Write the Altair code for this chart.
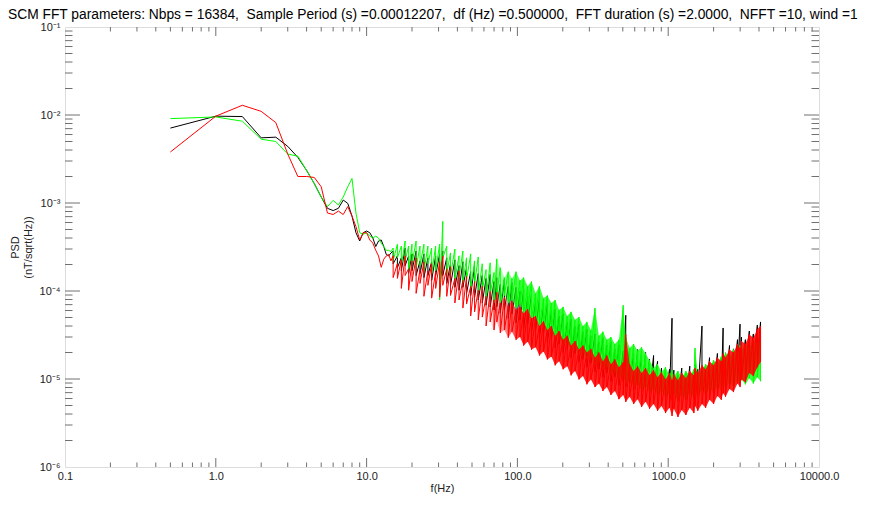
import altair as alt
import pandas as pd

NB = "\u00a0 "  # keeps the double spaces of the original title
TITLE = ("SCM FFT parameters: Nbps = 16384," + NB + "Sample Period (s) =0.00012207," + NB +
         "df (Hz) =0.500000," + NB + "FFT duration (s) =2.0000," + NB + "NFFT =10, wind =1")

# ---- low-frequency part (0.5 Hz bins) ----
F_LOW = [0.5, 1.0, 1.5, 2.0, 2.5, 3.0, 3.5, 4.0, 4.5, 5.0, 5.5, 6.0, 6.5, 7.0, 7.5,
         8.0, 8.5, 9.0, 9.5, 10.0, 10.5, 11.0, 11.5, 12.0, 12.5, 13.0, 13.5, 14.0, 14.5]
BLACK_LOW = [7.1e-3, 9.7e-3, 9.6e-3, 5.5e-3, 5.6e-3, 4.4e-3, 3.3e-3, 2.35e-3, 1.66e-3, 1.17e-3,
             8.7e-4, 8.2e-4, 8.7e-4, 1.08e-3, 9.9e-4, 7.1e-4, 4.6e-4, 3.7e-4, 4.6e-4, 4.8e-4,
             4.6e-4, 4.0e-4, 3.2e-4, 3.7e-4, 3.8e-4, 3.2e-4, 2.6e-4, 2.5e-4, 2.7e-4]
GREEN_LOW = [9.1e-3, 9.5e-3, 8.5e-3, 5.3e-3, 5.0e-3, 3.6e-3, 3.4e-3, 2.35e-3, 1.66e-3, 1.17e-3,
             9.1e-4, 1.07e-3, 9.5e-4, 1.17e-3, 1.53e-3, 1.9e-3, 7.7e-4, 4.6e-4, 4.4e-4, 4.6e-4,
             4.2e-4, 4.0e-4, 4.2e-4, 4.0e-4, 3.5e-4, 3.2e-4, 2.9e-4, 2.9e-4, 2.8e-4]
RED_LOW = [3.8e-3, 9.7e-3, 1.29e-2, 1.1e-2, 8.2e-3, 3.6e-3, 2.0e-3, 2.0e-3, 1.95e-3, 1.53e-3,
           7.7e-4, 7.4e-4, 8.1e-4, 7.4e-4, 9.1e-4, 7.1e-4, 5.4e-4, 3.8e-4, 4.6e-4, 4.6e-4,
           3.8e-4, 3.5e-4, 2.9e-4, 2.5e-4, 1.86e-4, 2.3e-4, 2.5e-4, 2.6e-4, 2.2e-4]

# ---- higher frequencies: upper / lower excursion of the noisy trace ----
F_HIGH = [15, 16, 17, 18, 19, 20, 21.3, 22.6, 24, 25.5,
          27, 28.7, 30.5, 32, 34, 36, 38.5, 41, 43.5, 46,
          49, 52, 55, 58.5, 62, 66, 70, 73, 77, 82,
          87, 92, 98, 104, 110, 117, 124, 132, 140, 149,
          158, 168, 178, 189, 201, 214, 227, 241, 256, 272,
          289, 307, 327, 347, 369, 392, 417, 443, 471, 503,
          523, 555, 590, 627, 666, 708, 752, 800, 850, 903,
          960, 1020, 1060, 1090, 1160, 1230, 1310, 1390, 1480, 1506,
          1570, 1675, 1770, 1880, 2000, 2120, 2250, 2313, 2400, 2550,
          2710, 2880, 2995, 3060, 3250, 3450, 3670, 3900, 4096]

BLACK_TOP = [2.85e-4, 2.5e-4, 2.38e-4, 3.08e-4, 2.5e-4, 2.64e-4, 2.85e-4, 2.2e-4, 2.64e-4, 2.38e-4,
             2.15e-4, 2.5e-4, 2.64e-4, 2.85e-4, 2.38e-4, 2.04e-4, 2.26e-4, 1.94e-4, 2.15e-4, 1.84e-4,
             1.66e-4, 1.94e-4, 1.58e-4, 1.5e-4, 1.39e-4, 1.54e-4, 1.28e-4, 1.42e-4, 1.19e-4, 1.35e-4,
             1.13e-4, 1.25e-4, 1.1e-4, 9.9e-5, 1.04e-4, 8.7e-5, 9.4e-5, 7.7e-5, 8.1e-5, 6.75e-5,
             7.1e-5, 5.9e-5, 6.25e-5, 5.2e-5, 5.5e-5, 4.45e-5, 4.8e-5, 4.0e-5, 4.2e-5, 3.45e-5,
             3.7e-5, 3.1e-5, 3.25e-5, 2.65e-5, 2.95e-5, 2.45e-5, 2.65e-5, 2.2e-5, 2.45e-5, 2.1e-5,
             5.3e-5, 2.25e-5, 1.95e-5, 2.16e-5, 1.8e-5, 2.0e-5, 1.67e-5, 1.85e-5, 1.59e-5, 1.33e-5,
             1.13e-5, 1.29e-5, 4.9e-5, 1.26e-5, 1.1e-5, 1.33e-5, 1.17e-5, 1.4e-5, 1.23e-5, 1.47e-5,
             1.29e-5, 4.0e-5, 1.43e-5, 1.75e-5, 1.59e-5, 1.95e-5, 1.75e-5, 3.8e-5, 1.95e-5, 2.4e-5,
             2.2e-5, 2.8e-5, 4.2e-5, 3.0e-5, 2.8e-5, 3.5e-5, 3.25e-5, 4.1e-5, 4.45e-5]
BLACK_BOTTOM = [2.04e-4, 1.84e-4, 1.7e-4, 1.94e-4, 1.58e-4, 1.7e-4, 1.5e-4, 1.58e-4, 1.42e-4, 1.5e-4,
                1.32e-4, 1.5e-4, 1.32e-4, 1.5e-4, 1.22e-4, 1.16e-4, 1.1e-4, 1.02e-4, 1.1e-4, 9.4e-5,
                8.9e-5, 8.5e-5, 7.9e-5, 7.3e-5, 6.9e-5, 6.6e-5, 6.1e-5, 6.6e-5, 5.6e-5, 6.1e-5,
                4.9e-5, 5.5e-5, 4.35e-5, 4.7e-5, 3.8e-5, 4.2e-5, 3.35e-5, 3.6e-5, 2.95e-5, 3.25e-5,
                2.6e-5, 2.8e-5, 2.25e-5, 2.5e-5, 2.0e-5, 2.16e-5, 1.75e-5, 1.95e-5, 1.55e-5, 1.67e-5,
                1.36e-5, 1.51e-5, 1.2e-5, 1.29e-5, 1.05e-5, 1.17e-5, 9.4e-6, 1.05e-5, 8.5e-6, 9.4e-6,
                8.1e-6, 8.9e-6, 7.5e-6, 8.5e-6, 7.1e-6, 8.1e-6, 6.8e-6, 7.7e-6, 6.4e-6, 7.3e-6,
                6.1e-6, 6.9e-6, 5.8e-6, 6.8e-6, 5.6e-6, 6.6e-6, 5.8e-6, 6.9e-6, 6.1e-6, 7.3e-6,
                6.4e-6, 7.7e-6, 6.9e-6, 8.5e-6, 7.7e-6, 9.4e-6, 8.5e-6, 1.02e-5, 8.9e-6, 1.1e-5,
                9.9e-6, 1.23e-5, 1.1e-5, 1.33e-5, 1.23e-5, 1.55e-5, 1.43e-5, 1.8e-5, 1.67e-5]

GREEN_TOP = [3.08e-4, 3.4e-4, 3.24e-4, 3.7e-4, 3.24e-4, 3.4e-4, 3.7e-4, 3.24e-4, 3.4e-4, 3.24e-4,
             3.08e-4, 3.24e-4, 3.4e-4, 6.2e-4, 3.24e-4, 2.71e-4, 3.0e-4, 2.51e-4, 2.85e-4, 2.38e-4,
             2.64e-4, 2.2e-4, 2.44e-4, 2.04e-4, 1.75e-4, 2.09e-4, 1.62e-4, 2.32e-4, 1.84e-4, 1.42e-4,
             1.66e-4, 1.39e-4, 1.66e-4, 1.32e-4, 1.42e-4, 1.13e-4, 1.28e-4, 9.4e-5, 1.13e-4, 8.3e-5,
             8.9e-5, 7.3e-5, 7.9e-5, 6.1e-5, 6.6e-5, 5.2e-5, 5.8e-5, 4.7e-5, 5.05e-5, 4.0e-5,
             4.45e-5, 3.6e-5, 6.4e-5, 3.1e-5, 3.45e-5, 2.8e-5, 3.0e-5, 2.5e-5, 2.8e-5, 6.9e-5,
             3.0e-5, 2.25e-5, 2.5e-5, 2.1e-5, 2.3e-5, 1.95e-5, 1.63e-5, 1.33e-5, 1.47e-5, 1.2e-5,
             1.36e-5, 1.1e-5, 1.26e-5, 1.08e-5, 1.23e-5, 1.05e-5, 1.23e-5, 1.08e-5, 1.29e-5, 2.25e-5,
             1.17e-5, 1.23e-5, 1.47e-5, 1.36e-5, 1.63e-5, 1.47e-5, 1.8e-5, 1.63e-5, 2.0e-5, 1.75e-5,
             2.16e-5, 1.95e-5, 2.4e-5, 2.1e-5, 2.5e-5, 2.25e-5, 2.8e-5, 2.5e-5, 3.0e-5]
GREEN_BOTTOM = [2.2e-4, 2.38e-4, 1.94e-4, 2.2e-4, 1.7e-4, 2.04e-4, 1.84e-4, 1.94e-4, 1.7e-4, 2.04e-4,
                1.58e-4, 1.7e-4, 7.9e-5, 2.38e-4, 1.58e-4, 1.5e-4, 1.35e-4, 1.42e-4, 1.25e-4, 1.32e-4,
                1.07e-4, 1.19e-4, 9.4e-5, 1.02e-4, 8.3e-5, 9.2e-5, 7.3e-5, 8.9e-5, 7.3e-5, 8.9e-5,
                7.3e-5, 7.9e-5, 6.4e-5, 7.1e-5, 5.6e-5, 6.1e-5, 4.9e-5, 5.05e-5, 4.0e-5, 4.2e-5,
                3.35e-5, 3.6e-5, 2.95e-5, 3.0e-5, 2.4e-5, 2.65e-5, 2.16e-5, 2.3e-5, 1.85e-5, 2.05e-5,
                1.67e-5, 1.8e-5, 1.43e-5, 1.59e-5, 1.29e-5, 1.4e-5, 1.1e-5, 1.23e-5, 9.9e-6, 1.1e-5,
                8.9e-6, 9.9e-6, 8.1e-6, 8.9e-6, 7.3e-6, 8.3e-6, 6.9e-6, 7.7e-6, 6.4e-6, 7.3e-6,
                6.1e-6, 6.9e-6, 5.9e-6, 6.8e-6, 5.6e-6, 6.6e-6, 5.8e-6, 6.9e-6, 6.1e-6, 7.3e-6,
                6.3e-6, 7.5e-6, 6.6e-6, 7.9e-6, 6.9e-6, 8.3e-6, 7.3e-6, 8.7e-6, 7.7e-6, 9.2e-6,
                8.1e-6, 9.7e-6, 8.5e-6, 9.9e-6, 8.7e-6, 1.02e-5, 8.9e-6, 1.05e-5, 9.4e-6]

RED_TOP = [2.51e-4, 2.04e-4, 2.26e-4, 2.51e-4, 1.79e-4, 2.2e-4, 2.38e-4, 1.75e-4, 2.15e-4, 1.7e-4,
           2.04e-4, 1.66e-4, 2.15e-4, 2.51e-4, 1.79e-4, 1.89e-4, 1.39e-4, 1.7e-4, 1.32e-4, 1.46e-4,
           1.13e-4, 1.28e-4, 1.02e-4, 1.13e-4, 8.7e-5, 9.9e-5, 7.9e-5, 9.65e-5, 7.3e-5, 8.5e-5,
           6.75e-5, 7.7e-5, 6.1e-5, 6.6e-5, 5.6e-5, 6.25e-5, 4.9e-5, 5.2e-5, 4.0e-5, 4.55e-5,
           3.6e-5, 4.0e-5, 3.1e-5, 3.5e-5, 2.8e-5, 3.1e-5, 2.4e-5, 2.7e-5, 2.16e-5, 2.4e-5,
           2.0e-5, 2.2e-5, 1.75e-5, 2.0e-5, 1.59e-5, 1.85e-5, 1.47e-5, 1.67e-5, 1.36e-5, 1.55e-5,
           3.2e-5, 1.47e-5, 1.23e-5, 1.4e-5, 1.17e-5, 1.33e-5, 1.1e-5, 1.26e-5, 1.05e-5, 1.2e-5,
           9.9e-6, 1.17e-5, 9.7e-6, 1.13e-5, 9.7e-6, 1.17e-5, 1.02e-5, 1.23e-5, 1.1e-5, 1.33e-5,
           1.17e-5, 1.43e-5, 1.29e-5, 1.59e-5, 1.43e-5, 1.75e-5, 1.59e-5, 1.95e-5, 1.75e-5, 2.16e-5,
           2.0e-5, 2.5e-5, 2.25e-5, 2.7e-5, 2.5e-5, 3.2e-5, 2.95e-5, 3.7e-5, 4.0e-5]
RED_BOTTOM = [1.42e-4, 1.39e-4, 1.07e-4, 1.5e-4, 1.02e-4, 1.28e-4, 9.4e-5, 1.22e-4, 8.7e-5, 1.16e-4,
              8.3e-5, 1.07e-4, 8.5e-5, 1.16e-4, 8.7e-5, 8.9e-5, 7.3e-5, 7.9e-5, 6.4e-5, 7.1e-5,
              5.2e-5, 5.8e-5, 4.7e-5, 5.05e-5, 4.0e-5, 4.45e-5, 3.6e-5, 4.45e-5, 3.35e-5, 3.6e-5,
              2.95e-5, 3.45e-5, 2.8e-5, 3.0e-5, 2.4e-5, 2.65e-5, 2.16e-5, 2.3e-5, 1.85e-5, 2.05e-5,
              1.67e-5, 1.8e-5, 1.43e-5, 1.59e-5, 1.29e-5, 1.4e-5, 1.1e-5, 1.23e-5, 9.9e-6, 1.08e-5,
              8.7e-6, 9.9e-6, 8.1e-6, 8.9e-6, 7.3e-6, 8.1e-6, 6.6e-6, 7.3e-6, 5.9e-6, 6.6e-6,
              5.5e-6, 6.3e-6, 5.2e-6, 5.9e-6, 4.8e-6, 5.5e-6, 4.6e-6, 5.2e-6, 4.35e-6, 4.95e-6,
              4.1e-6, 4.7e-6, 3.8e-6, 4.6e-6, 3.7e-6, 4.45e-6, 3.9e-6, 4.7e-6, 4.1e-6, 4.95e-6,
              4.35e-6, 5.2e-6, 4.7e-6, 5.8e-6, 5.2e-6, 6.4e-6, 5.8e-6, 6.9e-6, 6.3e-6, 7.7e-6,
              7.1e-6, 8.9e-6, 8.1e-6, 9.9e-6, 9.2e-6, 1.17e-5, 1.08e-5, 1.36e-5, 1.55e-5]

# ---- axis ticks ----
X_LABELS = [0.1, 1, 10, 100, 1000, 10000]
X_MAJOR = [1, 10, 100, 1000]
X_MINOR = [0.2, 0.3, 0.4, 0.5, 0.6, 0.7, 0.8, 0.9,
           2, 3, 4, 5, 6, 7, 8, 9,
           20, 30, 40, 50, 60, 70, 80, 90,
           200, 300, 400, 500, 600, 700, 800, 900,
           2000, 3000, 4000, 5000, 6000, 7000, 8000, 9000]
Y_LABELS = [1e-6, 1e-5, 1e-4, 1e-3, 1e-2, 1e-1]
Y_MAJOR = [1e-5, 1e-4, 1e-3, 1e-2]
Y_MINOR = [2e-6, 3e-6, 4e-6, 5e-6, 6e-6, 7e-6, 8e-6, 9e-6,
           2e-5, 3e-5, 4e-5, 5e-5, 6e-5, 7e-5, 8e-5, 9e-5,
           2e-4, 3e-4, 4e-4, 5e-4, 6e-4, 7e-4, 8e-4, 9e-4,
           2e-3, 3e-3, 4e-3, 5e-3, 6e-3, 7e-3, 8e-3, 9e-3,
           2e-2, 3e-2, 4e-2, 5e-2, 6e-2, 7e-2, 8e-2, 9e-2]

W, H = 754, 440
FONT = "Liberation Sans"
AX = "#707070"
BAND_FROM = 60  # above this frequency the traces are dense enough to read as a filled band


def trace(low, top, bottom):
    f, v = [], []
    for a, b in zip(F_LOW, low):
        f.append(a); v.append(b)
    for a, t, b in zip(F_HIGH, top, bottom):
        f.extend([a, a]); v.extend([t, b])
    return pd.DataFrame({"f": f, "psd": v, "k": list(range(len(f)))})


def band(top, bottom):
    rows = [(a, t, b) for a, t, b in zip(F_HIGH, top, bottom) if a >= BAND_FROM]
    return pd.DataFrame(rows, columns=["f", "psd", "psd2"])


xs = alt.Scale(type="log", domain=[0.1, 10000], nice=False)
ys = alt.Scale(type="log", domain=[1e-6, 0.1], nice=False)

x_axis = alt.Axis(values=X_LABELS, format=".1f", ticks=False, tickSize=0, domain=False,
                  grid=False, labelFont=FONT, labelFontSize=11, labelColor="#222",
                  labelPadding=3, labelFlush=False, labelOverlap=False,
                  title="f(Hz)", titleFont=FONT, titleFontSize=11, titleFontWeight="normal",
                  titleColor="#222", titlePadding=1)
y_axis = alt.Axis(values=Y_LABELS, ticks=False, tickSize=0, domain=False, grid=False,
                  labelExpr=("datum.value > 0.05 ? '10⁻¹' : datum.value > 0.005 ? '10⁻²' : "
                             "datum.value > 0.0005 ? '10⁻³' : datum.value > 0.00005 ? '10⁻⁴' : "
                             "datum.value > 0.000005 ? '10⁻⁵' : '10⁻⁶'"),
                  labelFont=FONT, labelFontSize=11, labelColor="#222", labelPadding=5,
                  labelFlush=False, labelOverlap=False,
                  title=["PSD", "(nT/sqrt(Hz))"], titleFont=FONT, titleFontSize=11,
                  titleFontWeight="normal", titleColor="#222", titlePadding=6)

X = alt.X("f:Q", scale=xs, axis=x_axis)
Y = alt.Y("psd:Q", scale=ys, axis=y_axis)


def line(df, color):
    return alt.Chart(df).mark_line(color=color, strokeWidth=1, clip=True).encode(
        x=X, y=Y, order="k:Q")


def area(df, color, clear, op):
    fill = alt.Gradient(
        gradient="linear", x1=0, x2=1, y1=0, y2=0,
        stops=[alt.GradientStop(offset=0, color=clear),
               alt.GradientStop(offset=0.13, color=color),
               alt.GradientStop(offset=1, color=color)])
    return alt.Chart(df).mark_area(color=fill, opacity=op, clip=True).encode(
        x=X, y=Y, y2="psd2:Q")


def xticks(vals, y1, y2):
    return alt.Chart(pd.DataFrame({"f": vals})).mark_rule(color=AX, strokeWidth=1).encode(
        x=X, y=alt.value(y1), y2=alt.value(y2))


def yticks(vals, x1, x2):
    return alt.Chart(pd.DataFrame({"psd": vals})).mark_rule(color=AX, strokeWidth=1).encode(
        y=Y, x=alt.value(x1), x2=alt.value(x2))


ticks = [
    xticks(X_MAJOR, H, H - 9), xticks(X_MINOR, H, H - 4.5),
    xticks(X_MAJOR, 0, 9), xticks(X_MINOR, 0, 4.5),
    yticks(Y_MAJOR, 0, 15), yticks(Y_MINOR, 0, 7.5),
    yticks(Y_MAJOR, W, W - 15), yticks(Y_MINOR, W, W - 7.5),
]

chart = alt.layer(
    *ticks,
    line(trace(BLACK_LOW, BLACK_TOP, BLACK_BOTTOM), "#000000"),
    area(band(GREEN_TOP, GREEN_BOTTOM), "#00ff00", "rgba(0,255,0,0)", 0.75),
    line(trace(GREEN_LOW, GREEN_TOP, GREEN_BOTTOM), "#00ff00"),
    area(band(RED_TOP, RED_BOTTOM), "#ff0000", "rgba(255,0,0,0)", 0.85),
    line(trace(RED_LOW, RED_TOP, RED_BOTTOM), "#ff0000"),
).properties(
    width=W, height=H,
    autosize=alt.AutoSizeParams(type="none"),
    padding={"left": 57, "top": 19, "right": 46, "bottom": 30},
    title=alt.TitleParams(text=TITLE, anchor="start", frame="group", dx=-57, offset=-12,
                          font=FONT, fontSize=13.8, fontWeight="normal", color="#000",
                          baseline="alphabetic"),
).configure_view(stroke=AX, strokeWidth=1).configure(background="white")

chart.save("out.html", embed_options={"renderer": "svg", "actions": False})
